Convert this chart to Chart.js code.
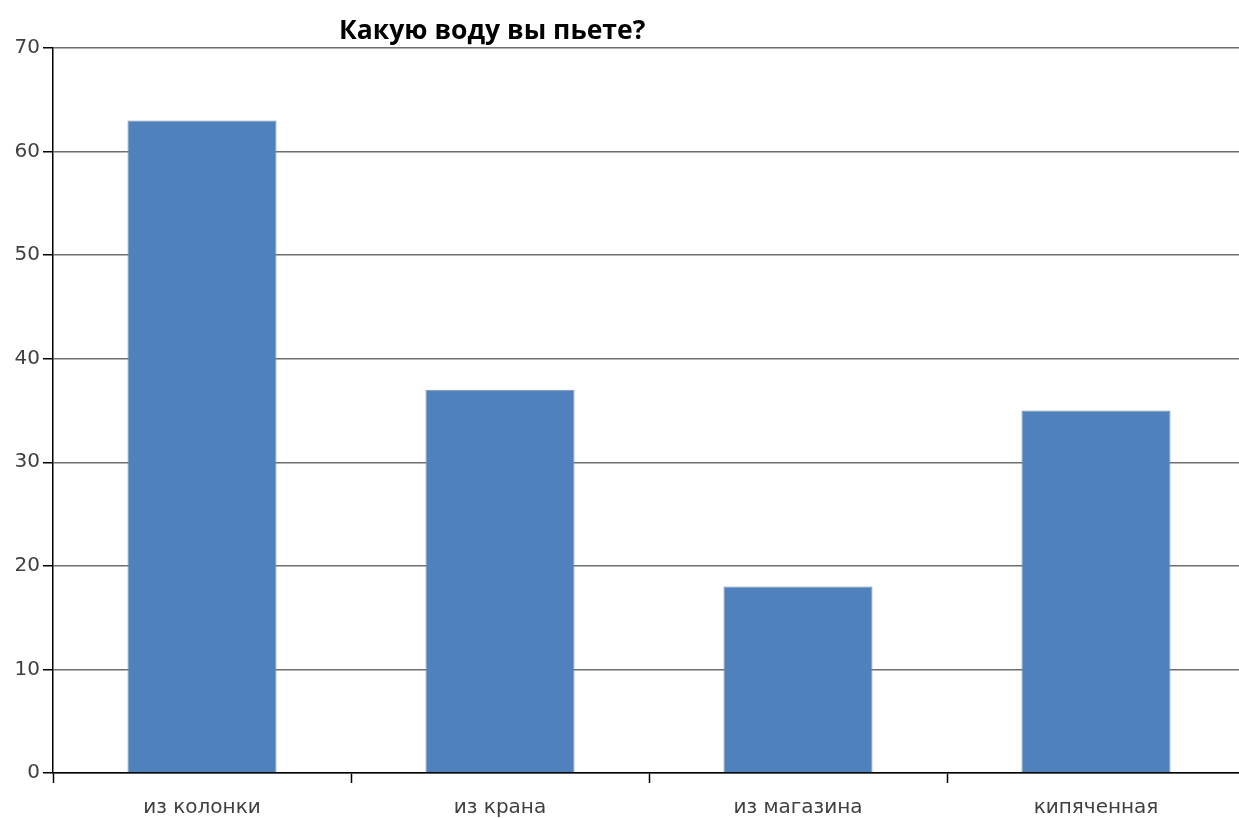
<!DOCTYPE html>
<html>
<head>
<meta charset="utf-8">
<script src="https://cdn.jsdelivr.net/npm/chart.js@4/dist/chart.umd.min.js"></script>
<style>
  html, body { margin: 0; padding: 0; background: #fff; overflow: hidden; }
  #wrap { position: relative; width: 1250px; height: 818px; }
  #title {
    position: absolute; top: 16px; left: 339px;
    font: bold 26.5px/26px "Open Sans", sans-serif; color: #000; white-space: nowrap;
  }
</style>
</head>
<body>
<div id="wrap">
  <canvas id="waterChart" width="1250" height="818"></canvas>
  <div id="title">Какую воду вы пьете?</div>
</div>
<script>
// Data
const categories = ["из колонки", "из крана", "из магазина", "кипяченная"];
const answers = [63, 37, 18, 35];
const yTicks = [0, 10, 20, 30, 40, 50, 60, 70];

const ctx = document.getElementById('waterChart').getContext('2d');

new Chart(ctx, {
    type: 'bar',
    data: {
        labels: categories,
        datasets: [{
            data: answers,
            backgroundColor: '#4f81bd',
            borderColor: '#7d8fa8',
            borderWidth: 1,
            categoryPercentage: 1,
            barPercentage: 0.5
        }]
    },
    options: {
        responsive: false,
        animation: false,
        layout: { padding: { top: 48, right: 5, left: 0, bottom: 0 } },
        plugins: {
            legend: { display: false },
            tooltip: { enabled: false }
        },
        scales: {
            x: {
                offset: true,
                grid: {
                    offset: true,
                    drawOnChartArea: false,
                    drawTicks: true,
                    tickLength: 10,
                    tickColor: '#000',
                    tickWidth: 1.5
                },
                border: { color: '#000', width: 1.5 },
                ticks: { color: '#404040', font: { family: 'DejaVu Sans', size: 20 }, padding: 13 },
                afterFit: s => { s.height = 45; }
            },
            y: {
                min: 0,
                max: 70,
                afterBuildTicks: s => { s.ticks = yTicks.map(v => ({ value: v })); },
                grid: {
                    color: '#6f6f6f',
                    lineWidth: 1.5,
                    tickLength: 10,
                    tickColor: '#000',
                    tickWidth: 1.5
                },
                border: { color: '#000', width: 1.5 },
                ticks: { color: '#404040', font: { family: 'DejaVu Sans', size: 20 }, padding: 3 },
                afterFit: s => { s.width = 53; }
            }
        }
    }
});
</script>
</body>
</html>
